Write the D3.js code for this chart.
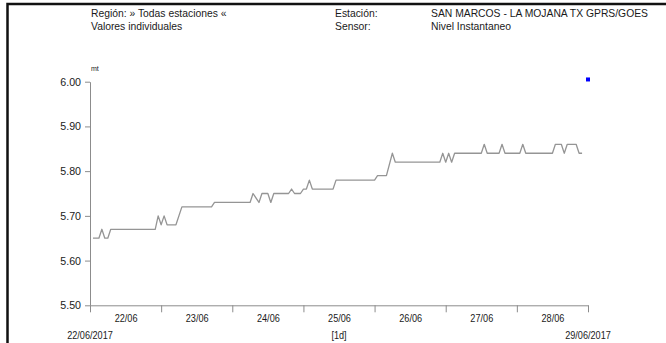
<!DOCTYPE html>
<html><head><meta charset="utf-8">
<script src="https://cdn.jsdelivr.net/npm/d3@7"></script>
<style>
body{margin:0;background:#fff;}
text{font-family:"Liberation Sans",Arial,sans-serif;fill:#1a1a1a;}
</style>
</head><body>
<svg id="chart" width="666" height="343"></svg>
<script>
// ---------- data ----------
const headerLeft = ["Región: » Todas estaciones «", "Valores individuales"];
const headerKeys = ["Estación:", "Sensor:"];
const headerVals = ["SAN MARCOS - LA MOJANA TX GPRS/GOES", "Nivel Instantaneo"];
const unitLabel = "mt";
const yTicks = [5.50, 5.60, 5.70, 5.80, 5.90, 6.00];
const dayLabels = ["22/06", "23/06", "24/06", "25/06", "26/06", "27/06", "28/06"];
const rangeStart = "2017-06-22 00:00";
const rangeEnd = "2017-06-29 00:00";
const startLabel = "22/06/2017";
const endLabel = "29/06/2017";
const intervalLabel = "[1d]";
const timestamps = [
  "2017-06-22 01:00","2017-06-22 03:00","2017-06-22 04:00","2017-06-22 05:00","2017-06-22 06:00","2017-06-22 07:00",
  "2017-06-22 22:00","2017-06-22 23:00","2017-06-23 00:00","2017-06-23 01:00","2017-06-23 02:00","2017-06-23 05:00",
  "2017-06-23 07:00","2017-06-23 17:00","2017-06-23 18:00","2017-06-24 06:00","2017-06-24 07:00","2017-06-24 09:00",
  "2017-06-24 10:00","2017-06-24 12:00","2017-06-24 13:00","2017-06-24 14:00","2017-06-24 19:00","2017-06-24 20:00",
  "2017-06-24 21:00","2017-06-24 23:00","2017-06-25 00:00","2017-06-25 01:00","2017-06-25 02:00","2017-06-25 03:00",
  "2017-06-25 10:00","2017-06-25 11:00","2017-06-26 00:00","2017-06-26 01:00","2017-06-26 04:00","2017-06-26 06:00",
  "2017-06-26 07:00","2017-06-26 22:00","2017-06-26 23:00","2017-06-27 00:00","2017-06-27 01:00","2017-06-27 02:00",
  "2017-06-27 03:00","2017-06-27 12:00","2017-06-27 13:00","2017-06-27 14:00","2017-06-27 18:00","2017-06-27 19:00",
  "2017-06-27 20:00","2017-06-28 01:00","2017-06-28 02:00","2017-06-28 03:00","2017-06-28 12:00","2017-06-28 13:00",
  "2017-06-28 15:00","2017-06-28 16:00","2017-06-28 17:00","2017-06-28 20:00","2017-06-28 21:00","2017-06-28 22:00"
];
const levels = [
  5.65,5.65,5.67,5.65,5.65,5.67,
  5.67,5.70,5.68,5.70,5.68,5.68,
  5.72,5.72,5.73,5.73,5.75,5.73,
  5.75,5.75,5.73,5.75,5.75,5.76,
  5.75,5.75,5.76,5.76,5.78,5.76,
  5.76,5.78,5.78,5.79,5.79,5.84,
  5.82,5.82,5.84,5.82,5.84,5.82,
  5.84,5.84,5.86,5.84,5.84,5.86,
  5.84,5.84,5.86,5.84,5.84,5.86,
  5.86,5.84,5.86,5.86,5.84,5.84
];
const markerTime = "2017-06-29 00:00";
const markerValue = 6.005;

// ---------- drawing ----------
const parse = d3.utcParse("%Y-%m-%d %H:%M");
const svg = d3.select("#chart");
const t0 = parse(rangeStart), t1 = parse(rangeEnd);
const x = d3.scaleUtc().domain([t0, t1]).range([90, 588]);
const y = d3.scaleLinear().domain([5.5, 6.0]).range([305.3, 81.7]);

function squeeze(sel, f) {
  sel.each(function () {
    const w = this.getComputedTextLength();
    this.setAttribute("textLength", w * f);
    this.setAttribute("lengthAdjust", "spacingAndGlyphs");
  });
}

// frame
svg.append("rect").attr("x", 7.5).attr("y", 4).attr("width", 700).attr("height", 400)
  .attr("fill", "none").attr("stroke", "#111").attr("stroke-width", 2.5);

// header
const hdr = svg.append("g").attr("font-size", 11);
headerLeft.forEach((s, i) => hdr.append("text").attr("x", 91).attr("y", 17 + i * 13).text(s));
headerKeys.forEach((s, i) => hdr.append("text").attr("x", 335).attr("y", 17 + i * 13).text(s));
headerVals.forEach((s, i) => hdr.append("text").attr("x", 431).attr("y", 17 + i * 13).text(s));
squeeze(hdr.selectAll("text"), 0.94);

// unit
svg.append("text").attr("x", 91).attr("y", 71).attr("font-size", 7).text(unitLabel);

// y axis
const yAxis = svg.append("g").attr("transform", "translate(90,0)")
  .call(d3.axisLeft(y).tickValues(yTicks).tickFormat(d3.format(".2f")).tickSize(5).tickSizeOuter(0).tickPadding(4));
yAxis.selectAll("path,line").attr("stroke", "#8c8c8c");
yAxis.selectAll("text").attr("font-size", 11).attr("font-family", "Liberation Sans, Arial, sans-serif").attr("fill", "#1a1a1a");
squeeze(yAxis.selectAll("text"), 0.97);

// x axis (day boundaries)
const days = d3.utcDay.range(t0, d3.utcHour.offset(t1, 1));
const xAxis = svg.append("g").attr("transform", "translate(0," + y(5.5) + ")")
  .call(d3.axisBottom(x).tickValues(days).tickFormat("").tickSize(7).tickSizeOuter(0));
xAxis.selectAll("path,line").attr("stroke", "#8c8c8c");

// day labels at noon
const noons = dayLabels.map((d, i) => d3.utcHour.offset(days[i], 12));
const xLab = svg.append("g").attr("transform", "translate(0," + y(5.5) + ")")
  .call(d3.axisBottom(x).tickValues(noons).tickFormat((d, i) => dayLabels[i]).tickSize(0).tickPadding(9));
xLab.select(".domain").remove();
xLab.selectAll("text").attr("font-size", 11).attr("font-family", "Liberation Sans, Arial, sans-serif").attr("fill", "#1a1a1a");
squeeze(xLab.selectAll("text"), 0.83);

// range labels
const rl = svg.append("g").attr("font-size", 11).attr("text-anchor", "middle");
rl.append("text").attr("x", x(t0)).attr("y", 339).text(startLabel);
rl.append("text").attr("x", x(t1)).attr("y", 339).text(endLabel);
rl.append("text").attr("x", x(noons[3])).attr("y", 339).text(intervalLabel);
squeeze(rl.selectAll("text"), 0.83);

// series line
const data = timestamps.map((t, i) => ({ t: parse(t), v: levels[i] }));
svg.append("path").datum(data)
  .attr("fill", "none").attr("stroke", "#959595").attr("stroke-width", 1.3)
  .attr("stroke-linejoin", "round")
  .attr("d", d3.line().x(d => x(d.t)).y(d => y(d.v)));

// marker
svg.append("rect")
  .attr("x", x(parse(markerTime)) - 2).attr("y", y(markerValue) - 2)
  .attr("width", 4).attr("height", 4).attr("fill", "#0000ff");
</script>
</body></html>
